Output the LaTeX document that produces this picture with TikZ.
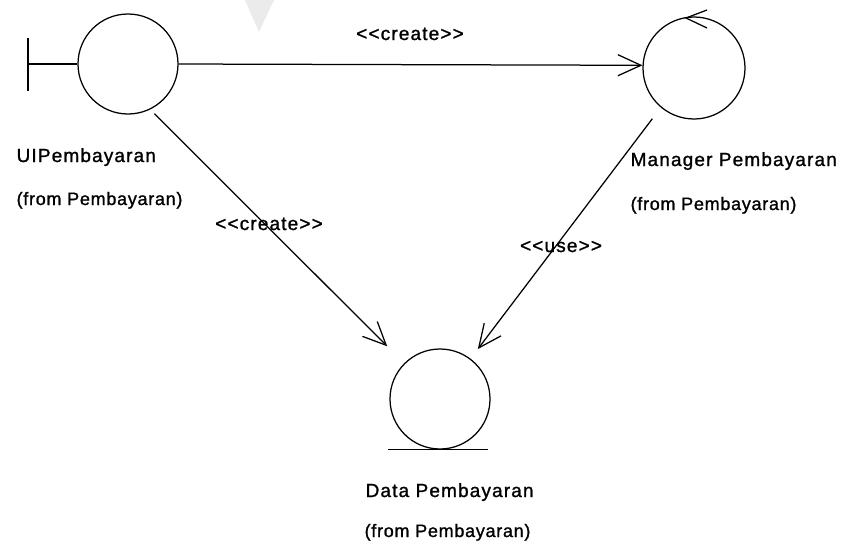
\documentclass[tikz,border=0pt]{standalone}
\usepackage{fontspec}
\usetikzlibrary{arrows.meta}
\newfontfamily\titlefont[LetterSpace=6,FakeBold=1.2]{Liberation Sans}
\newfontfamily\fromfont[LetterSpace=4,FakeBold=1.2]{Liberation Sans}
\begin{document}
\begin{tikzpicture}[x=1pt,y=-1pt,
  line width=1.25pt,
  icon/.style={draw, circle, minimum size=100pt, inner sep=0pt},
  dep/.style={-{Straight Barb[length=23pt,width=21pt,line width=1.25pt]}},
  title/.style={anchor=base west, inner sep=0pt, font=\titlefont\fontsize{19}{23}\selectfont},
  origin/.style={anchor=base west, inner sep=0pt, font=\fromfont\fontsize{18}{22}\selectfont},
  stereo/.style={anchor=base, inner sep=0pt, font=\titlefont\fontsize{19}{23}\selectfont}]
\useasboundingbox (0,0) rectangle (859,546);
\fill[white] (0,0) rectangle (859,546);
% faint mark at the top edge
\fill[black!8] (245,0) -- (274,0) -- (259,32) -- cycle;

% boundary class
\node[icon] (ui) at (128,64) {};
\coordinate (barT) at (28,38);
\coordinate (barB) at (28,91);
\coordinate (barM) at (28,64);
\draw (barT) -- (barB);
\draw (barM) -- (ui.west);
\node[title]  (uiT) at (16,162) {UIPembayaran};
\node[origin] (uiF) at (16,205) {(from Pembayaran)};

% control class
\node[icon, minimum size=102pt] (mgr) at (694,68) {};
\coordinate (mgrTip) at (686,18);
\coordinate (mgrW1) at (707,10);
\coordinate (mgrW2) at (707,28);
\draw (mgrW1) -- (mgrTip) -- (mgrW2);
\node[title]  (mgrT) at (630,166) {Manager Pembayaran};
\node[origin] (mgrF) at (630,210) {(from Pembayaran)};

% entity class
\node[icon] (data) at (440,399) {};
\draw ([xshift=-52pt]data.south) -- ([xshift=48pt]data.south);
\node[title]  (dataT) at (365,497) {Data Pembayaran};
\node[origin] (dataF) at (364,537) {(from Pembayaran)};

% dependencies
\draw[dep] (ui.east) -- (mgr.177);
\draw[dep, shorten <=6pt, shorten >=24pt] (ui.-64) -- (data);
\draw[dep, shorten <=14pt, shorten >=12pt] (mgr.-130) -- (data);

\node[stereo] (l1) at (410,40) {<{}<create>{}>};
\node[stereo] (l2) at (269,230) {<{}<create>{}>};
\node[stereo] (l3) at (561,252) {<{}<use>{}>};
\end{tikzpicture}
\end{document}
